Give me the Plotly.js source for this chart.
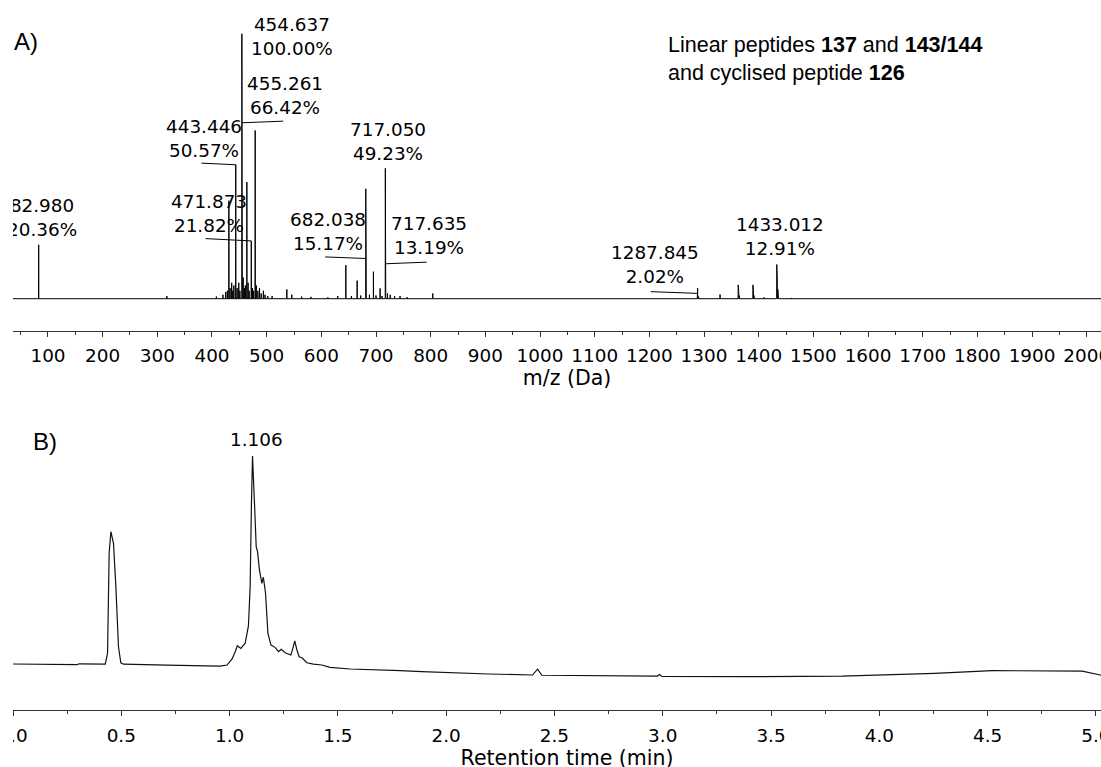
<!DOCTYPE html>
<html>
<head>
<meta charset="utf-8">
<script src="https://cdn.plot.ly/plotly-3.0.1.min.js"></script>
<style>
html,body{margin:0;padding:0;background:#fff;overflow:hidden;width:1101px;height:767px;}
#clip{position:absolute;left:12.5px;top:0;width:1088.5px;height:767px;overflow:hidden;background:#fff;}
#plot{position:absolute;left:-12.5px;top:0;width:1122px;height:780px;}
</style>
</head>
<body>
<div id="clip"><div id="plot"></div></div>
<script>
// ---- Mass spectrum (A): m/z (Da) and relative intensity (%) ----
const peakMz = [82.98, 317.5, 408, 420, 425, 428, 430.9, 433, 436, 438, 440, 443.446, 446, 449, 451,
  454.637, 455.261, 457, 459, 461, 463.8, 466, 468, 471.873, 474, 476, 479.0, 481, 484, 487, 490, 494, 497,
  502, 510, 536.9, 546, 564, 581, 612, 630, 644.8, 655, 665.5, 672, 681.3, 682.038, 688, 695.3, 700,
  707.5, 711, 717.05, 717.635, 721, 726, 734, 744, 757, 803.8, 1287.845, 1288.3, 1290, 1329.3,
  1362.5, 1363.5, 1364.5, 1389.4, 1390.4, 1391.4, 1410, 1433.012, 1434.0, 1435.0, 1436.0, 1460];
const peakInt = [20.36, 1.0, 0.8, 1.5, 2.5, 3.0, 37.0, 4.0, 6.0, 3.0, 5.0, 50.57, 4.0, 6.0, 3.0,
  100.00, 66.42, 8.0, 4.0, 5.0, 44.0, 6.0, 3.0, 21.82, 4.0, 3.0, 63.5, 5.0, 3.0, 4.0, 2.0, 3.0, 1.5,
  1.0, 1.0, 3.5, 1.5, 0.8, 0.7, 0.5, 1.0, 12.7, 1.0, 6.8, 1.2, 41.5, 15.17, 1.5, 10.2, 1.2,
  3.9, 1.0, 49.23, 13.19, 2.0, 1.5, 1.0, 1.0, 0.6, 2.0, 2.02, 4.0, 0.8, 1.6,
  5.2, 3.0, 1.2, 5.2, 3.0, 1.2, 0.5, 12.91, 8.0, 3.5, 1.2, 0.3];

// labelled peaks
const labelMz  = [82.980, 454.637, 455.261, 443.446, 471.873, 682.038, 717.050, 717.635, 1287.845, 1433.012];
const labelPct = [20.36, 100.00, 66.42, 50.57, 21.82, 15.17, 49.23, 13.19, 2.02, 12.91];

// ---- Chromatogram (B): retention time (min) and signal ----
const rtMin = [0.000, 0.126, 0.295, 0.306, 0.426, 0.4365, 0.444, 0.452, 0.464, 0.475, 0.487, 0.498, 0.510,
  0.711, 0.957, 0.988, 1.011, 1.026, 1.036, 1.052, 1.072, 1.087, 1.095, 1.101, 1.106, 1.115, 1.123, 1.129,
  1.138, 1.149, 1.156, 1.166, 1.177, 1.191, 1.210, 1.226, 1.238, 1.257, 1.283, 1.292, 1.301, 1.311, 1.321,
  1.334, 1.357, 1.387, 1.426, 1.464, 1.557, 1.788, 1.887, 2.196, 2.399, 2.422, 2.442, 2.975, 2.985, 2.996,
  3.401, 3.828, 4.254, 4.521, 4.937, 5.020, 5.116];
const rtSignal = [0.0, 0.0, -0.3, 0.1, -0.1, 5.1, 53.4, 63.6, 58.0, 37.2, 8.3, 0.6, -0.1,
  -0.5, -1.0, -0.5, 2.3, 5.9, 8.8, 7.5, 10.0, 18.3, 37.2, 77.3, 100.0, 77.3, 56.4, 54.0,
  45.2, 38.8, 41.7, 34.0, 14.8, 9.1, 8.0, 5.9, 7.1, 5.4, 4.3, 7.5, 11.1, 6.7, 3.5,
  3.0, 0.6, -0.1, -0.5, -1.6, -2.4, -3.2, -3.7, -4.8, -5.3, -2.5, -5.4, -5.8, -5.1, -6.0,
  -6.1, -5.8, -4.5, -3.2, -3.4, -5.3, -9.0];
const rtLabel = 1.106;

// ---- build stick spectrum from arrays ----
const xRange = [36.01, 2062.7];
const order = peakMz.map((m, i) => i).sort((a, b) => peakMz[a] - peakMz[b]);
const sx = [xRange[0]], sy = [0];
const hw = 0.2;
order.forEach(i => { sx.push(peakMz[i] - hw, peakMz[i], peakMz[i] + hw); sy.push(0, peakInt[i], 0); });
sx.push(xRange[1]); sy.push(0);

const tickFont = {family: 'DejaVu Sans', size: 18.4, color: '#000'};
const titleFont = {family: 'DejaVu Sans', size: 20.5, color: '#000'};
const axisCol = '#333';

// label placement (pixel offsets of label centre from peak top) and leader lines
const labelShift = [[3.1, 27.3], [50.6, -2.5], [43, 27.3], [-32.1, 26.7], [-42.1, 27.6],
  [-37.8, 26.8], [3.1, 26.6], [43.3, 28.3], [-42.2, 28.8], [3.6, 28.3]];
const leader = [null, null, [41, 1.6], [-34.3, 1.6], [-45.7, 2.3], [-41, 1.6], null, [41, 1.6], [-46.7, 1.7], null];

const annotations = [];
const shapes = [];
labelMz.forEach((m, i) => {
  annotations.push({
    xref: 'x', yref: 'y', x: m, y: labelPct[i], showarrow: false,
    text: m.toFixed(3) + '<br>' + labelPct[i].toFixed(2) + '%',
    xanchor: 'center', yanchor: 'middle', xshift: labelShift[i][0], yshift: labelShift[i][1],
    font: tickFont, align: 'center'
  });
  if (leader[i]) {
    shapes.push({
      type: 'line', xref: 'x', yref: 'y', xsizemode: 'pixel', ysizemode: 'pixel',
      xanchor: m, yanchor: labelPct[i], x0: 0, y0: 0, x1: leader[i][0], y1: leader[i][1],
      line: {color: '#000', width: 1}
    });
  }
});
annotations.push({
  xref: 'x2', yref: 'y2', x: rtLabel, y: rtSignal[rtMin.indexOf(rtLabel)], showarrow: false,
  text: rtLabel.toFixed(3), xanchor: 'center', yanchor: 'middle', xshift: 4.3, yshift: 16, font: tickFont
});
const W = 1108.6, H = 710;
const px = v => (v - 12.7) / W, py = v => (H - v) / H;
annotations.push({xref: 'paper', yref: 'paper', x: px(11.5), y: py(41), xanchor: 'left', yanchor: 'middle',
  showarrow: false, text: 'A)', font: {family: 'Liberation Sans', size: 24, color: '#000'}});
annotations.push({xref: 'paper', yref: 'paper', x: px(30.5), y: py(441.7), xanchor: 'left', yanchor: 'middle',
  showarrow: false, text: 'B)', font: {family: 'Liberation Sans', size: 24, color: '#000'}});
annotations.push({xref: 'paper', yref: 'paper', x: px(666), y: py(59), xanchor: 'left', yanchor: 'middle',
  showarrow: false, align: 'left',
  text: 'Linear peptides <b>137</b> and <b>143/144</b><br>and cyclised peptide <b>126</b>',
  font: {family: 'Liberation Sans', size: 21.5, color: '#000'}});

const traces = [
  {x: sx, y: sy, type: 'scatter', mode: 'lines', line: {color: '#000', width: 1}, xaxis: 'x', yaxis: 'y', hoverinfo: 'skip'},
  {x: rtMin, y: rtSignal, type: 'scatter', mode: 'lines', line: {color: '#111', width: 1.2}, xaxis: 'x2', yaxis: 'y2', hoverinfo: 'skip'}
];

const xCommon = {
  showline: true, linecolor: axisCol, linewidth: 1, showgrid: false, zeroline: false,
  ticks: 'outside', ticklen: 5, tickwidth: 1, tickcolor: axisCol, tickfont: tickFont,
  ticklabelshift: 3.5, ticklabeloverflow: 'allow', automargin: false
};
const layout = {
  width: 1122, height: 780,
  margin: {l: 12.7, r: 0.7, t: 0, b: 70},
  paper_bgcolor: '#fff', plot_bgcolor: '#fff', showlegend: false,
  xaxis: Object.assign({}, xCommon, {
    range: xRange, domain: [0, 1], anchor: 'y', dtick: 100, tick0: 0, ticklabelstandoff: 3,
    minor: {dtick: 50, tick0: 0, ticks: 'outside', ticklen: 3, tickcolor: axisCol, showgrid: false},
    title: {text: 'm/z (Da)', font: titleFont, standoff: 5}
  }),
  yaxis: {domain: [0.5338, 1], range: [-12.19, 112.76], visible: false, anchor: 'x', fixedrange: true},
  xaxis2: Object.assign({}, xCommon, {
    range: [0, 5.116], domain: [0, 1], anchor: 'y2', dtick: 0.5, tick0: 0, tickformat: '.1f', ticklabelstandoff: 4,
    minor: {dtick: 0.25, tick0: 0, ticks: 'outside', ticklen: 3, tickcolor: axisCol, showgrid: false},
    title: {text: 'Retention time (min)', font: titleFont, standoff: 1}
  }),
  yaxis2: {domain: [0, 0.39437], range: [-22.12, 112.5], visible: false, anchor: 'x2', fixedrange: true},
  annotations: annotations,
  shapes: shapes
};
Plotly.newPlot('plot', traces, layout, {staticPlot: true, displayModeBar: false});
</script>
</body>
</html>
